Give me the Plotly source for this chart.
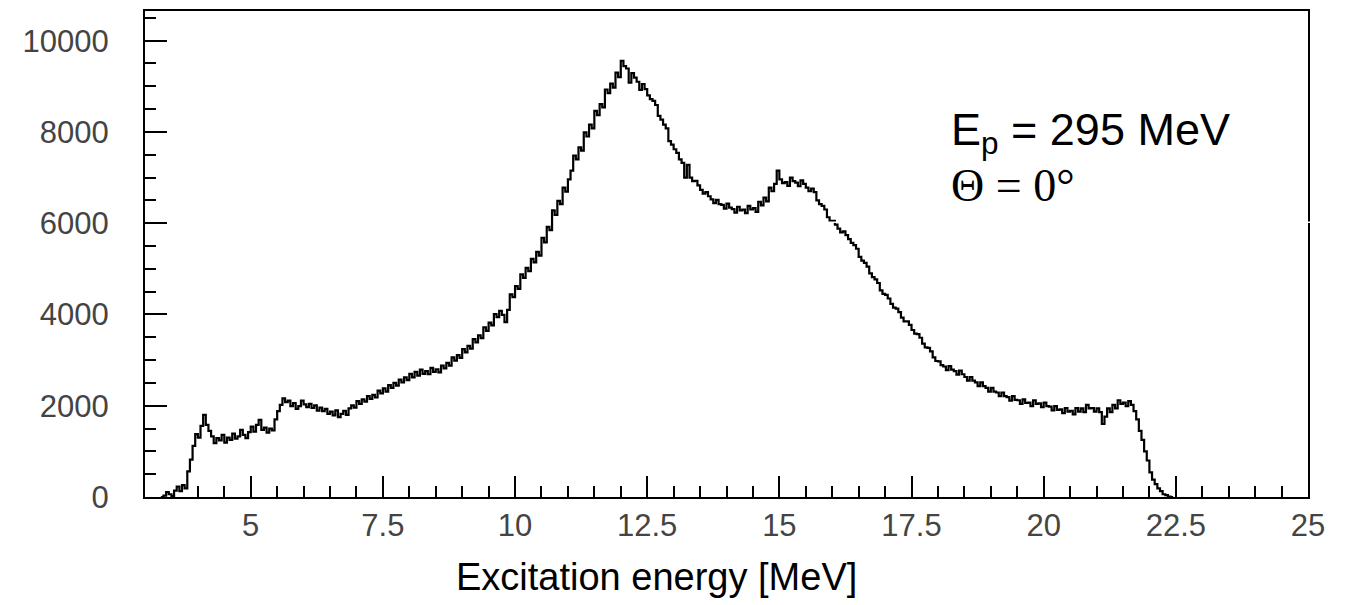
import numpy as np
import plotly.graph_objects as go

# Histogram: excitation energy spectrum, bins of 0.05 MeV starting at 3.30 MeV
# (each row below holds 20 bins = 1 MeV, first row starts at 3.30 MeV)
bin_start = 3.30
bin_width = 0.05
counts = [
    0, 30, 110, 60, 20, 140, 230, 130, 260, 190, 560, 820, 1120, 1380, 1300, 1560, 1800, 1580, 1450, 1330,
    1180, 1290, 1240, 1360, 1190, 1300, 1250, 1390, 1280, 1330, 1470, 1360, 1290, 1420, 1540, 1430, 1580, 1690, 1470, 1520,
    1410, 1500, 1460, 1700, 1880, 2020, 2160, 2080, 2110, 1990, 2060, 1930, 1990, 2110, 2030, 1970, 2040, 1950, 2010, 1890,
    1960, 1880, 1930, 1820, 1870, 1790, 1900, 1750, 1820, 1890, 1800, 1940, 2010, 1960, 2100, 2040, 2140, 2090, 2210, 2150,
    2240, 2180, 2330, 2270, 2380, 2310, 2450, 2390, 2500, 2440, 2570, 2510, 2620, 2560, 2700, 2620, 2740, 2660, 2790, 2700,
    2760, 2690, 2830, 2740, 2800, 2730, 2880, 2820, 2940, 2880, 3060, 2990, 3110, 3050, 3240, 3170, 3310, 3250, 3460, 3390,
    3540, 3480, 3720, 3640, 3820, 3760, 4010, 3940, 4080, 3990, 3830, 4100, 4440, 4380, 4620, 4560, 4880, 4800, 5020, 4950,
    5220, 5140, 5370, 5290, 5680, 5580, 5920, 5850, 6280, 6180, 6490, 6420, 6780, 6690, 6960, 7150, 7480, 7400, 7660, 7590,
    7990, 7900, 8160, 8080, 8460, 8370, 8610, 8540, 8930, 8850, 9060, 8970, 9300, 9200, 9560, 9440, 9390, 9080, 9290, 9190,
    9100, 8920, 9050, 8940, 8800, 8720, 8680, 8590, 8350, 8270, 8160, 8080, 7800, 7720, 7620, 7540, 7400, 7320, 7000, 7280,
    7000, 6920, 6930, 6830, 6730, 6650, 6680, 6590, 6520, 6440, 6510, 6420, 6400, 6320, 6430, 6340, 6310, 6230, 6360, 6280,
    6300, 6220, 6380, 6300, 6330, 6250, 6470, 6390, 6560, 6480, 6780, 6700, 6860, 7150, 6960, 6880, 6900, 6820, 7000, 6920,
    6890, 6810, 6940, 6860, 6780, 6700, 6760, 6680, 6500, 6420, 6380, 6300, 6130, 6050, 6050, 5970, 5880, 5800, 5820, 5740,
    5650, 5570, 5520, 5440, 5260, 5180, 5130, 5050, 4900, 4820, 4770, 4690, 4530, 4450, 4430, 4350, 4230, 4150, 4130, 4050,
    3930, 3850, 3850, 3770, 3660, 3580, 3570, 3490, 3360, 3280, 3270, 3190, 3060, 2980, 2970, 2890, 2860, 2780, 2870, 2790,
    2760, 2680, 2770, 2690, 2630, 2550, 2630, 2550, 2510, 2430, 2510, 2430, 2390, 2310, 2390, 2310, 2290, 2210, 2290, 2210,
    2190, 2110, 2210, 2130, 2120, 2040, 2140, 2060, 2070, 1990, 2120, 2040, 2050, 1970, 2070, 1990, 1980, 1900, 1990, 1910,
    1920, 1840, 1950, 1870, 1890, 1810, 1950, 1870, 1940, 1860, 2020, 1940, 1950, 1870, 1940, 1860, 1600, 1760, 1940, 1860,
    2020, 1940, 2120, 2040, 2070, 1990, 2100, 2020, 1880, 1700, 1450, 1250, 1000, 800, 540, 380, 280, 190, 130, 60,
    40, 10, 0,
]

x_tickvals = [5, 7.5, 10, 12.5, 15, 17.5, 20, 22.5, 25]
x_ticktext = ["5", "7.5", "10", "12.5", "15", "17.5", "20", "22.5", "25"]
x_minor = [4, 4.5, 5.5, 6, 6.5, 7, 8, 8.5, 9, 9.5, 10.5, 11, 11.5, 12, 13, 13.5,
           14, 14.5, 15.5, 16, 16.5, 17, 18, 18.5, 19, 19.5, 20.5, 21, 21.5, 22,
           23, 23.5, 24, 24.5]
y_tickvals = [0, 2000, 4000, 6000, 8000, 10000]
y_ticktext = ["0", "2000", "4000", "6000", "8000", "10000"]

x_title = "Excitation energy [MeV]"
label_line1 = "E<sub>p</sub> = 295 MeV"
label_line2 = "Θ = 0°"

n = len(counts)
edges = np.round(bin_start + bin_width * np.arange(n + 1), 4)
xs = list(edges)
ys = list(counts) + [counts[-1]]

fig = go.Figure()
fig.add_trace(go.Scatter(
    x=xs, y=ys, mode="lines", line=dict(shape="hv", color="black", width=2.2),
    hoverinfo="skip", showlegend=False,
))

tick_font = dict(family="Liberation Sans, Arial, sans-serif", size=31, color="#444444")

# page body has an 8px margin, so the figure is 8px smaller than the window
W, H = 1338, 597
L, R, T, B = 137, 38, 1, 108
fig.update_layout(
    width=W, height=H,
    margin=dict(l=L, r=R, t=T, b=B),
    paper_bgcolor="white", plot_bgcolor="white",
    showlegend=False,
    xaxis=dict(
        range=[3.0, 25.0], showgrid=False, zeroline=False,
        showline=True, linecolor="black", linewidth=2, mirror=True,
        ticks="inside", ticklen=21, tickwidth=2, tickcolor="black",
        tickmode="array", tickvals=x_tickvals, ticktext=x_ticktext,
        tickfont=tick_font, ticklabelstandoff=0,
        minor=dict(tickmode="array", tickvals=x_minor, ticks="inside",
                   ticklen=11, tickwidth=2, tickcolor="black", showgrid=False),
    ),
    yaxis=dict(
        range=[0, 10650], showgrid=False, zeroline=False,
        showline=True, linecolor="black", linewidth=2, mirror=True,
        ticks="inside", ticklen=22, tickwidth=2, tickcolor="black",
        tickmode="array", tickvals=y_tickvals, ticktext=y_ticktext,
        tickfont=tick_font, ticklabelstandoff=28,
        minor=dict(dtick=500, tick0=0, ticks="inside",
                   ticklen=11, tickwidth=2, tickcolor="black", showgrid=False),
    ),
)

# helpers: window pixel -> paper coordinates
pw, ph = W - L - R, H - T - B
def px(xw):
    return (xw - 8 - L) / pw
def py(yw):
    return (H - B + 8 - yw) / ph

fig.add_annotation(
    text=x_title, xref="paper", yref="paper",
    x=px(656), y=py(577),
    xanchor="center", yanchor="middle", showarrow=False,
    font=dict(family="Liberation Sans, Arial, sans-serif", size=38, color="black"),
)
fig.add_annotation(
    text=label_line1, xref="paper", yref="paper",
    x=px(949), y=py(131),
    xanchor="left", yanchor="middle", showarrow=False,
    font=dict(family="Liberation Sans, Arial, sans-serif", size=45, color="black"),
)
fig.add_annotation(
    text=label_line2, xref="paper", yref="paper",
    x=px(949), y=py(184),
    xanchor="left", yanchor="middle", showarrow=False,
    font=dict(family="Liberation Serif, Times New Roman, serif", size=46, color="black"),
)

# thin white break visible in the original frame/curve
fig.add_shape(type="line", xref="paper", yref="paper",
              x0=px(822), x1=px(1311), y0=py(221), y1=py(221),
              line=dict(color="white", width=1.5), layer="above")

fig.write_html("out.html")
